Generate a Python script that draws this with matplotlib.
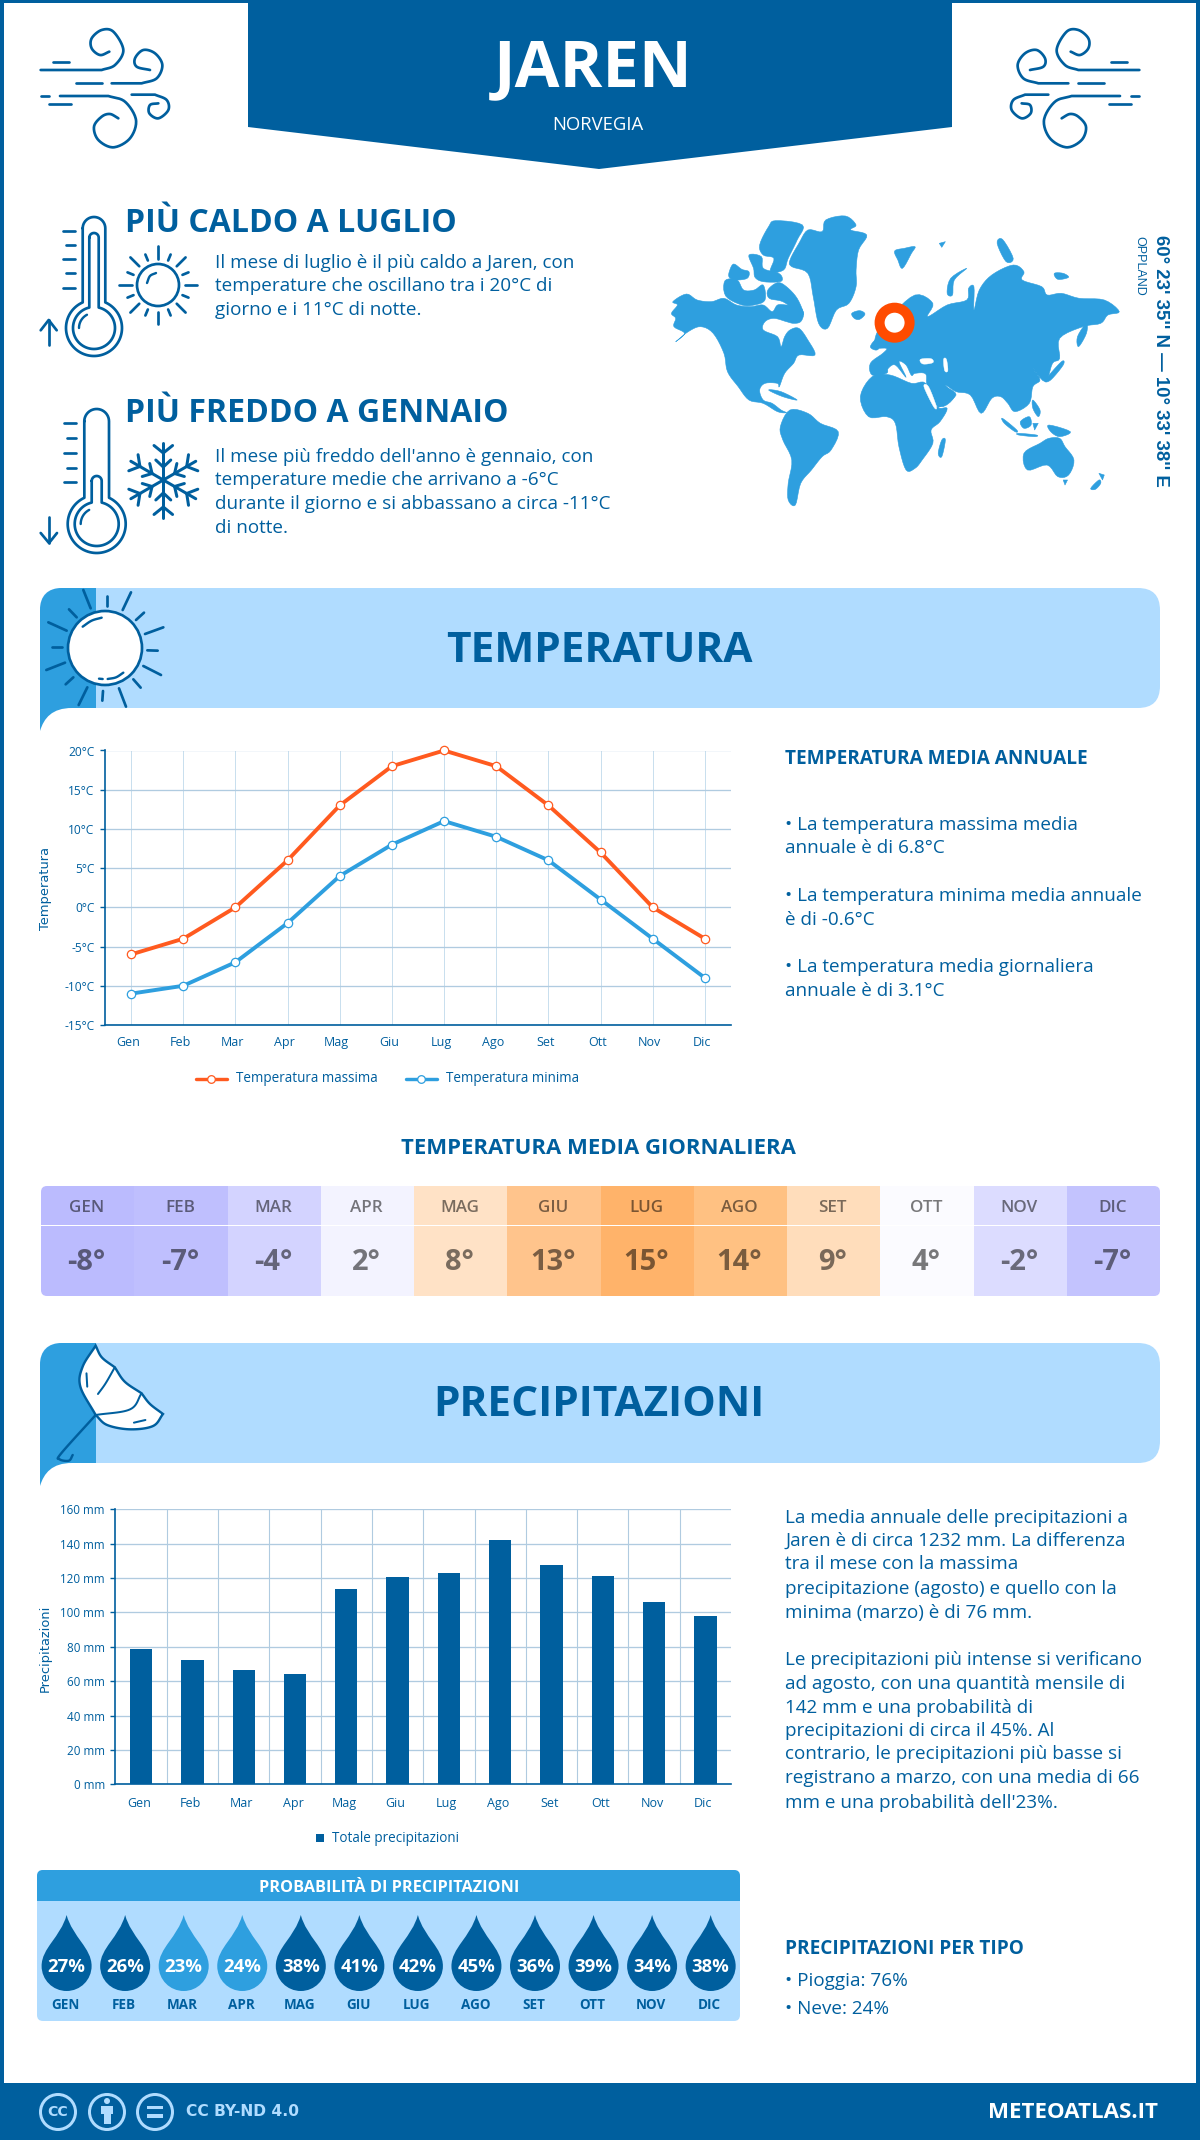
from __future__ import annotations

import matplotlib
import numpy as np

matplotlib.use("Agg")
import matplotlib.pyplot as plt  # noqa: E402
from matplotlib.patches import Circle, FancyBboxPatch, PathPatch, Polygon, Rectangle  # noqa: E402
from matplotlib.path import Path  # noqa: E402
from matplotlib.transforms import ScaledTranslation  # noqa: E402

plt.rcParams["font.family"] = ["Open Sans", "DejaVu Sans"]

DARK = "#005f9e"
MID = "#2e9fdf"
LIGHT = "#b0dcff"
ORANGE = "#ff5a1f"
GRID = "#b0cbe0"
GRID_SOFT = "#c8deee"

MONTHS = ["Gen", "Feb", "Mar", "Apr", "Mag", "Giu", "Lug", "Ago", "Set", "Ott", "Nov", "Dic"]
TEMP_MAX = [-6, -4, 0, 6, 13, 18, 20, 18, 13, 7, 0, -4]
TEMP_MIN = [-11, -10, -7, -2, 4, 8, 11, 9, 6, 1, -4, -9]
TEMP_DAILY = [-8, -7, -4, 2, 8, 13, 15, 14, 9, 4, -2, -7]
TEMP_COLORS = ["#bbbbfe", "#bfbffe", "#d3d3ff", "#f3f3ff", "#ffe2c6", "#ffc48c",
               "#ffb36a", "#ffc182", "#ffddbb", "#fbfbff", "#dcdcff", "#c3c3fe"]
PRECIP = [78.7, 72.3, 66.5, 64.2, 113.6, 120.6, 123, 142, 127.6, 121.2, 106, 97.9]
RAIN_PROB = [27, 26, 23, 24, 38, 41, 42, 45, 36, 39, 34, 38]
TEMP_TICKS = [-15, -10, -5, 0, 5, 10, 15, 20]
PRECIP_TICKS = [0, 20, 40, 60, 80, 100, 120, 140, 160]

PRECIP_TEXT = [
    (1518, "La media annuale delle precipitazioni a"),
    (1541, "Jaren è di circa 1232 mm. La differenza"),
    (1564, "tra il mese con la massima"),
    (1589, "precipitazione (agosto) e quello con la"),
    (1613, "minima (marzo) è di 76 mm."),
    (1660, "Le precipitazioni più intense si verificano"),
    (1684, "ad agosto, con una quantità mensile di"),
    (1708, "142 mm e una probabilità di"),
    (1731, "precipitazioni di circa il 45%. Al"),
    (1754, "contrario, le precipitazioni più basse si"),
    (1778, "registrano a marzo, con una media di 66"),
    (1803, "mm e una probabilità dell'23%."),
]
TEMP_NOTES = [
    (825, "• La temperatura massima media"),
    (848, "annuale è di 6.8°C"),
    (896, "• La temperatura minima media annuale"),
    (920, "è di -0.6°C"),
    (967, "• La temperatura media giornaliera"),
    (991, "annuale è di 3.1°C"),
]

WIDTH, HEIGHT = 1200, 2140
BODY = 18.85
fig = plt.figure(figsize=(WIDTH / 100, HEIGHT / 100), dpi=100, facecolor="white")
bg = fig.add_axes([0, 0, 1, 1])
bg.set_xlim(0, WIDTH)
bg.set_ylim(HEIGHT, 0)
bg.axis("off")


def px(size: float) -> float:
    return size * 0.72


def text(x, y, s, size, weight="normal", color=DARK, ha="left", va="center", **kw):
    return bg.text(x, y, s, fontsize=px(size), fontweight=weight, color=color, ha=ha, va=va, **kw)


def smooth(points, steps=14, closed=False):
    # catmull-rom through hand picked points, good enough for the icons
    pts = np.array(points, dtype=float)
    if closed:
        pts = np.vstack([pts[-1], pts, pts[0], pts[1]])
    else:
        pts = np.vstack([2 * pts[0] - pts[1], pts, 2 * pts[-1] - pts[-2]])
    out = []
    for i in range(1, len(pts) - 2):
        p0, p1, p2, p3 = pts[i - 1], pts[i], pts[i + 1], pts[i + 2]
        for t in np.linspace(0, 1, steps, endpoint=False):
            out.append(0.5 * (2 * p1 + (p2 - p0) * t + (2 * p0 - 5 * p1 + 4 * p2 - p3) * t**2
                              + (3 * p1 - p0 - 3 * p2 + p3) * t**3))
    out.append(pts[-2])
    return np.array(out)


def stroke(points, lw=2.7, color=DARK, z=5):
    pts = np.array(points, dtype=float)
    bg.plot(pts[:, 0], pts[:, 1], color=color, lw=px(lw), solid_capstyle="round",
            solid_joinstyle="round", zorder=z)


def shift_labels(axis, dx):
    for lbl in axis.get_xticklabels():
        lbl.set_transform(lbl.get_transform() + ScaledTranslation(dx / 100, 0, fig.dpi_scale_trans))


# page frame and footer
bg.add_patch(Rectangle((0, 0), 4, HEIGHT, color=DARK, lw=0))
bg.add_patch(Rectangle((1196, 0), 4, HEIGHT, color=DARK, lw=0))
bg.add_patch(Rectangle((0, 0), WIDTH, 3, color=DARK, lw=0))
bg.add_patch(Rectangle((0, 2083), WIDTH, 57, color=DARK, lw=0))

# header
bg.add_patch(Polygon([(248, 0), (952, 0), (952, 127), (599, 169), (248, 127)], color=DARK, lw=0))
text(593.5, 70, "JAREN", 65, "bold", "white", ha="center")
text(598, 125, "NORVEGIA", 18.5, "normal", "white", ha="center")


def wind(flip):
    conv = lambda pts: [((1180 - (30 + x / 3)) if flip else 30 + x / 3, 20 + y / 3) for x, y in pts]
    stroke(conv([(68, 125), (118, 125)]))
    stroke(conv([(138, 190), (215, 190)]))
    stroke(conv([(32, 228), (58, 228)]))
    stroke(conv([(57, 252), (123, 252)]))
    curls = [
        [(215, 150), (255, 135), (280, 90), (250, 35), (215, 30), (185, 55), (185, 85), (210, 105), (238, 95)],
        [(335, 190), (380, 175), (397, 135), (375, 100), (340, 90), (315, 115), (320, 140), (360, 150)],
        [(235, 228), (285, 245), (318, 300), (300, 355), (250, 382), (205, 360), (192, 320), (215, 290), (240, 282), (265, 295)],
        [(375, 224), (410, 240), (415, 270), (385, 295), (358, 280), (360, 255), (385, 250)],
    ]
    starts = [(32, 150), (245, 190), (90, 228), (305, 224)]
    for start, curl in zip(starts, curls):
        stroke(np.vstack([conv([start]), smooth(conv(curl))]))


wind(False)
wind(True)

# warmest / coldest blocks
text(125, 224, "PIÙ CALDO A LUGLIO", 32, "bold")
for y, s in [(263, "Il mese di luglio è il più caldo a Jaren, con"),
             (286, "temperature che oscillano tra i 20°C di"),
             (310, "giorno e i 11°C di notte.")]:
    text(215, y, s, BODY)
text(125, 414, "PIÙ FREDDO A GENNAIO", 32, "bold")
for y, s in [(457, "Il mese più freddo dell'anno è gennaio, con"),
             (480, "temperature medie che arrivano a -6°C"),
             (504, "durante il giorno e si abbassano a circa -11°C"),
             (528, "di notte.")]:
    text(215, y, s, BODY)


def thermometer(xl, xr, top, cx, cy, r_out, r_in, stem_l, stem_r, stem_top, tick_l, ticks):
    rt = (xr - xl) / 2
    a = np.arcsin(rt / r_out)
    cap = np.linspace(np.pi, 0, 24)
    capxy = np.column_stack([(xl + xr) / 2 + rt * np.cos(cap), top + rt - rt * np.sin(cap)])
    th = np.linspace(np.pi / 2 - a, -1.5 * np.pi + a, 80)
    bulb = np.column_stack([cx + r_out * np.cos(th), cy - r_out * np.sin(th)])
    stroke(np.vstack([capxy, bulb, capxy[:1]]))
    # inner outline
    rs = (stem_r - stem_l) / 2
    b = np.arcsin(rs / r_in)
    cap2 = np.linspace(np.pi, 0, 20)
    cap2xy = np.column_stack([(stem_l + stem_r) / 2 + rs * np.cos(cap2), stem_top + rs - rs * np.sin(cap2)])
    th2 = np.linspace(np.pi / 2 - b, -1.5 * np.pi + b, 70)
    bulb2 = np.column_stack([cx + r_in * np.cos(th2), cy - r_in * np.sin(th2)])
    stroke(np.vstack([cap2xy, bulb2, cap2xy[:1]]))
    for i, y in enumerate(ticks):
        stroke([(tick_l + (3.5 if i % 2 else 0), y), (tick_l + 12.5, y)])
    hl = np.linspace(np.radians(180), np.radians(118), 12)
    stroke(np.column_stack([cx + (r_in - 6) * np.cos(hl), cy - (r_in - 6) * np.sin(hl)]), lw=2.4)


thermometer(82.7, 105.3, 217, 94, 328, 28, 21, 89.3, 98.7, 233, 62.7, [230.7, 245.3, 259.3, 273.3, 287.7])
stroke([(48.7, 345), (48.7, 320)])
stroke([(40.7, 330.3), (48.7, 320), (56.7, 330.3)])
thermometer(84.3, 109, 409, 96.7, 524, 29, 22, 91.7, 101.7, 476, 63.5, [423, 438, 452.7, 467.7, 482.3])
stroke([(49, 516.7), (49, 543)])
stroke([(40.7, 533), (49, 543), (57, 533)])

# little sun
sx, sy = 158, 285
bg.add_patch(Circle((sx, sy), 21, fc="none", ec=DARK, lw=px(2.7), zorder=5))
for k in range(16):
    ang = k * np.pi / 8
    r2 = 39 if k % 2 == 0 else 33
    stroke([(sx + 26.5 * np.cos(ang), sy - 26.5 * np.sin(ang)), (sx + r2 * np.cos(ang), sy - r2 * np.sin(ang))])
stroke(smooth([(147, 283), (150, 276), (156, 273)]), lw=2.4)

# snowflake
fx, fy = 163.3, 480
for k in range(6):
    ang = np.pi / 2 + k * np.pi / 3
    u = np.array([np.cos(ang), -np.sin(ang)])
    v = np.array([-u[1], u[0]])
    c = np.array([fx, fy])
    stroke([c, c + 37.5 * u], lw=3)
    for base, along, side in [(27, 7.5, 9.3), (13, 7, 7.5)]:
        for sgn in (-1, 1):
            stroke([c + base * u, c + (base + along) * u + sgn * side * v], lw=3)


# world map
def land(points):
    pts = [(640 + x / 2.8, 190 + y / 3) for x, y in points]
    if len(pts) > 3:
        pts = smooth(pts, steps=5, closed=True)
    bg.add_patch(Polygon(pts, closed=True, fc=MID, ec=MID, lw=0.4, joinstyle="round", zorder=2))


def hole(points):
    pts = [(640 + x / 2.8, 190 + y / 3) for x, y in points]
    bg.add_patch(Polygon(smooth(pts, steps=5, closed=True), closed=True, fc="white", ec="white", lw=0.3, zorder=3))


LANDS = [
    # north america
    [(88, 370), (105, 345), (92, 335), (130, 312), (160, 330), (200, 335), (235, 325), (270, 345), (310, 350),
     (345, 345), (370, 365), (385, 345), (410, 345), (445, 350), (458, 370), (450, 395), (430, 400), (410, 395),
     (375, 385), (350, 395), (345, 420), (385, 440), (395, 470), (405, 440), (420, 420), (445, 415), (470, 450),
     (490, 495), (445, 495), (430, 520), (405, 550), (390, 590), (385, 580), (350, 580), (335, 600), (345, 630),
     (370, 640), (395, 660), (410, 668), (385, 665), (345, 640), (305, 630), (275, 590), (245, 545), (235, 490),
     (205, 430), (170, 410), (135, 425), (100, 455), (125, 430), (95, 410), (100, 385)],
    # canadian arctic
    [(358, 300), (385, 278), (410, 290), (440, 325), (458, 372), (440, 365), (400, 335), (362, 325)],
    [(335, 165), (360, 110), (380, 92), (455, 105), (440, 150), (415, 205), (402, 240), (365, 245), (375, 205), (345, 195)],
    [(238, 272), (272, 270), (290, 300), (320, 300), (345, 285), (350, 330), (320, 345), (285, 345), (240, 318)],
    [(250, 245), (262, 222), (285, 238), (305, 245), (300, 265), (268, 270), (250, 262)],
    [(305, 195), (340, 200), (345, 235), (385, 248), (398, 262), (392, 275), (345, 275), (322, 262), (318, 235)],
    # greenland, iceland, svalbard and so on
    [(420, 210), (445, 160), (470, 120), (510, 125), (520, 90), (575, 78), (605, 105), (590, 120), (635, 135),
     (612, 180), (605, 240), (605, 290), (585, 340), (550, 360), (525, 415), (500, 400), (485, 320), (470, 250), (425, 230)],
    [(593, 370), (615, 362), (630, 372), (615, 388), (600, 385)],
    [(713, 183), (740, 175), (770, 170), (760, 190), (735, 235), (722, 210)],
    [(838, 160), (855, 155), (845, 172)],
    [(860, 310), (870, 265), (915, 235), (880, 270), (875, 315)],
    [(1000, 160), (1015, 148), (1045, 205), (1025, 215)],
    [(1160, 250), (1185, 250), (1200, 262), (1170, 268)],
    # eurasia
    [(655, 465), (665, 425), (700, 380), (770, 315), (820, 340), (805, 380), (860, 345), (915, 330), (920, 295),
     (935, 290), (935, 360), (950, 300), (985, 255), (1045, 225), (1075, 245), (1070, 270), (1125, 290), (1140, 315),
     (1180, 310), (1230, 325), (1300, 330), (1342, 365), (1310, 375), (1290, 400), (1240, 410), (1175, 445),
     (1175, 505), (1155, 520), (1135, 575), (1100, 535), (1120, 570), (1100, 590), (1090, 640), (1050, 665),
     (1030, 640), (1010, 620), (985, 625), (955, 670), (925, 615), (885, 605), (855, 585), (880, 620), (840, 650),
     (805, 590), (800, 552), (770, 550), (760, 556), (745, 525), (725, 515), (745, 562), (715, 525), (695, 535),
     (690, 550), (650, 555), (645, 520), (680, 490), (690, 475), (655, 475)],
    [(645, 470), (660, 450), (668, 475), (658, 480)],
    # africa and madagascar
    [(617, 620), (650, 560), (700, 555), (760, 580), (800, 580), (830, 650), (860, 655), (840, 695), (815, 720),
     (820, 760), (790, 810), (770, 835), (745, 840), (725, 770), (715, 700), (690, 680), (640, 680)],
    [(805, 590), (850, 590), (885, 615), (840, 650), (830, 645)],
    [(835, 790), (845, 750), (855, 750), (845, 800)],
    # south america
    [(393, 710), (420, 660), (470, 670), (505, 700), (555, 725), (535, 780), (510, 800), (480, 840), (450, 880),
     (435, 945), (415, 930), (415, 880), (425, 810), (400, 750)],
    # oceania and the asian islands
    [(1075, 790), (1120, 760), (1145, 745), (1175, 745), (1190, 770), (1215, 810), (1200, 855), (1170, 860), (1140, 825), (1085, 840)],
    [(1185, 870), (1197, 870), (1190, 885)],
    [(1262, 895), (1285, 870), (1290, 880), (1275, 898)],
    [(1285, 850), (1300, 855), (1295, 870)],
    [(1135, 570), (1180, 515), (1185, 525), (1150, 570)],
    [(1228, 470), (1225, 440), (1250, 400), (1250, 430)],
    [(1015, 685), (1055, 720), (1050, 725), (1020, 700)],
    [(1065, 695), (1090, 680), (1095, 705), (1075, 715)],
    [(1060, 730), (1110, 735), (1105, 740), (1060, 735)],
    [(1100, 700), (1115, 700), (1105, 720)],
    [(1145, 705), (1205, 725), (1175, 740), (1150, 725)],
    [(1100, 630), (1120, 660), (1115, 680), (1100, 655)],
    [(360, 600), (395, 605), (440, 630), (400, 620)],
]
for shape in LANDS:
    land(shape)
hole([(785, 508), (815, 506), (820, 518), (792, 522)])
hole([(850, 508), (858, 508), (862, 542), (853, 542)])
hole([(795, 590), (808, 590), (830, 650), (822, 650)])

bg.add_patch(Circle((894.6, 322.7), 15, fc="white", ec="#ff4b00", lw=px(10), zorder=6))
text(1161, 235, "60° 23' 35'' N — 10° 33' 38'' E", 18.6, "bold", ha="center", va="top", rotation=-90,
     family=["Liberation Sans"])
text(1139, 236, "OPPLAND", 12.5, "normal", ha="center", va="top", rotation=-90, family=["Liberation Sans"])


def banner(top, title):
    bottom = top + 120
    bg.add_patch(FancyBboxPatch((40 + 22, top + 22), 1120 - 44, 120 - 44, boxstyle="round,pad=22,rounding_size=22",
                                fc=LIGHT, ec="none", zorder=1))
    verts = [(40, bottom + 23), (40, top + 22), (40, top + 8), (48, top), (62, top), (96, top), (96, bottom),
             (72, bottom), (52, bottom), (44, bottom + 10), (40, bottom + 23)]
    codes = [Path.MOVETO, Path.LINETO, Path.CURVE4, Path.CURVE4, Path.CURVE4, Path.LINETO, Path.LINETO,
             Path.LINETO, Path.CURVE4, Path.CURVE4, Path.CURVE4]
    bg.add_patch(PathPatch(Path(verts, codes), fc=MID, ec="none", zorder=2))
    text(599, top + 63, title, 42.4, "bold", ha="center")


banner(588, "TEMPERATURA")
banner(1343, "PRECIPITAZIONI")

# big sun on the temperature banner
conv = lambda pts: [(30 + x / 3, 580 + y / 3) for x, y in pts]
bg.add_patch(Circle((105, 648), 37, fc="white", ec=DARK, lw=px(2.7), zorder=5))
SUN_RAYS = [((160, 30), (182, 85)), ((230, 47), (230, 78)), ((303, 37), (278, 90)), ((342, 98), (318, 120)),
            ((400, 142), (345, 162)), ((383, 212), (352, 211)), ((393, 285), (340, 258)), ((332, 323), (310, 298)),
            ((288, 380), (267, 325)), ((217, 362), (219, 333)), ((146, 375), (172, 322)), ((107, 313), (130, 292)),
            ((49, 270), (105, 248)), ((66, 200), (97, 200)), ((55, 127), (110, 152)), ((117, 88), (140, 112))]
for a, b in SUN_RAYS:
    stroke(conv([a, b]))
stroke(smooth(conv([(158, 140), (185, 122), (215, 113)])), lw=2.4)
stroke(smooth(conv([(233, 297), (258, 292), (280, 278)])), lw=2.4)
stroke(conv([(207, 296), (218, 297)]), lw=2.4)

# umbrella on the precipitation banner
uconv = lambda pts: [(x / 1.3067, 1120 + y / 3) for x, y in pts]
canopy = (
    list(smooth(uconv([(125, 677), (108, 740), (105, 800), (125, 885)])))
    + list(smooth(uconv([(125, 885), (140, 915), (170, 928), (200, 918), (213, 882)])))
    + list(smooth(uconv([(213, 882), (196, 852), (185, 820)])))
    + list(smooth(uconv([(185, 820), (163, 785), (150, 742)])))
    + list(smooth(uconv([(150, 742), (133, 712), (125, 677)])))
)
bg.add_patch(Polygon(canopy, closed=True, fc="white", ec=DARK, lw=px(2.4), zorder=5))
stroke(smooth(uconv([(150, 742), (138, 790), (128, 822)])), lw=2)
stroke(smooth(uconv([(185, 820), (170, 868), (125, 885)])), lw=2)
stroke(uconv([(113, 760), (114, 800)]), lw=2)
stroke(uconv([(175, 908), (190, 900)]), lw=2)
stroke(smooth(uconv([(125, 885), (80, 1000), (78, 1018), (90, 1022), (95, 1005)])), lw=2.4)


def chart_axes(left, top, right, bottom):
    ax = fig.add_axes([left / WIDTH, 1 - bottom / HEIGHT, (right - left) / WIDTH, (bottom - top) / HEIGHT])
    ax.set_facecolor("none")
    for side in ("top", "right"):
        ax.spines[side].set_visible(False)
    for side in ("left", "bottom"):
        ax.spines[side].set_color(DARK)
        ax.spines[side].set_linewidth(1.2)
    ax.set_axisbelow(True)
    return ax


# temperature chart
ax = chart_axes(105, 750.5, 731, 1025)
x = np.arange(12)
ax.set_xlim(-0.5, 11.5)
ax.set_ylim(-15, 20)
ax.set_yticks(TEMP_TICKS)
ax.set_yticklabels([f"{t}°C" for t in TEMP_TICKS], fontsize=px(12), color=DARK)
ax.set_xticks(x)
ax.set_xticklabels(MONTHS, fontsize=px(12.5), color=DARK)
ax.tick_params(axis="y", length=3.6, width=1, color=DARK, pad=4)
ax.tick_params(axis="x", length=0, pad=8)
ax.grid(axis="y", color=GRID, lw=0.95)
ax.grid(axis="x", color=GRID_SOFT, lw=0.7)
shift_labels(ax, -3)
line_style = dict(marker="o", ms=6, mfc="white", mew=0.9, lw=2.8, clip_on=False)
ax.plot(x, TEMP_MAX, color=ORANGE, **line_style)
ax.plot(x, TEMP_MIN, color=MID, **line_style)
text(45, 889, "Temperatura", 13, ha="center", rotation=90, family=["DejaVu Sans"])
stroke([(196, 1079), (227, 1079)], lw=3.4, color=ORANGE)
bg.plot([211], [1079], "o", ms=5.5, mfc="white", mec=ORANGE, mew=0.9, zorder=6)
text(236, 1079, "Temperatura massima", 13.5)
stroke([(406, 1079), (437, 1079)], lw=3.4, color=MID)
bg.plot([421], [1079], "o", ms=5.5, mfc="white", mec=MID, mew=0.9, zorder=6)
text(446, 1079, "Temperatura minima", 13.5)

text(785, 759, "TEMPERATURA MEDIA ANNUALE", 19, "bold")
for y, s in TEMP_NOTES:
    text(785, y, s, BODY)

# daily mean table
text(598, 1149, "TEMPERATURA MEDIA GIORNALIERA", 22.2, "bold", ha="center")
clip = FancyBboxPatch((41 + 6, 1186 + 6), 1119 - 12, 110 - 12, boxstyle="round,pad=6,rounding_size=6",
                      fc="none", ec="none", transform=bg.transData)
bg.add_patch(clip)
cell = (1160 - 41) / 12
for i, (m, t, c) in enumerate(zip(MONTHS, TEMP_DAILY, TEMP_COLORS)):
    r = Rectangle((41 + i * cell, 1186), cell + 0.5, 110, fc=c, ec="none", zorder=2)
    bg.add_patch(r)
    r.set_clip_path(clip)
    cx = 41 + (i + 0.5) * cell
    text(cx - 1, 1208, m.upper(), 17, "semibold", "#000000", ha="center", alpha=0.52, zorder=4)
    text(cx - 1, 1263, f"{t}°", 29, "bold", "#000000", ha="center", alpha=0.52, zorder=4)
bg.add_patch(Rectangle((41, 1224.5), 1119, 1.5, fc="white", ec="none", zorder=3))

# precipitation chart
ax2 = chart_axes(115.4, 1509.3, 731, 1784.3)
ax2.set_xlim(-0.5, 11.5)
ax2.set_ylim(0, 160)
ax2.set_yticks(PRECIP_TICKS)
ax2.set_yticklabels([f"{t} mm" for t in PRECIP_TICKS], fontsize=px(11.6), color=DARK)
ax2.set_xticks(x)
ax2.set_xticklabels(MONTHS, fontsize=px(12.5), color=DARK)
ax2.tick_params(axis="y", length=3.6, width=1, color=DARK, pad=4)
ax2.tick_params(axis="x", length=0, pad=9)
ax2.set_xticks(x[:-1] + 0.5, minor=True)
ax2.tick_params(axis="x", which="minor", length=0)
ax2.grid(axis="y", color=GRID, lw=0.95)
ax2.grid(axis="x", which="minor", color=GRID, lw=0.8)
shift_labels(ax2, -2)
ax2.bar(x, PRECIP, width=22.3 / 51.3, color=DARK, zorder=3)
text(45, 1648, "Precipitazioni", 13, ha="center", rotation=90, family=["DejaVu Sans"])
bg.add_patch(Rectangle((316, 1834), 8, 8, fc=DARK, ec="none"))
text(332, 1838, "Totale precipitazioni", 13.5)

for y, s in PRECIP_TEXT:
    text(785, y, s, BODY)

# rain probability panel
bg.add_patch(FancyBboxPatch((37 + 6, 1870 + 6), 703 - 12, 151 - 12, boxstyle="round,pad=6,rounding_size=6",
                            fc=LIGHT, ec="none", zorder=1))
head = FancyBboxPatch((37 + 6, 1870 + 6), 703 - 12, 151 - 12, boxstyle="round,pad=6,rounding_size=6",
                      fc="none", ec="none")
bg.add_patch(head)
hr = Rectangle((37, 1870), 703, 31, fc=MID, ec="none", zorder=2)
bg.add_patch(hr)
hr.set_clip_path(head)
text(389, 1888, "PROBABILITÀ DI PRECIPITAZIONI", 16.2, "bold", "white", ha="center", zorder=3)


def drop(cx, tip, bottom, half, color):
    cy = bottom - half
    k = 0.5523 * half
    verts = [(cx, tip), (cx + 6, tip + 22), (cx + half, cy - 18), (cx + half, cy),
             (cx + half, cy + k), (cx + k, bottom), (cx, bottom),
             (cx - k, bottom), (cx - half, cy + k), (cx - half, cy),
             (cx - half, cy - 18), (cx - 6, tip + 22), (cx, tip)]
    codes = [Path.MOVETO] + [Path.CURVE4] * 12
    bg.add_patch(PathPatch(Path(verts, codes), fc=color, ec="none", zorder=3))


for i, (m, p) in enumerate(zip(MONTHS, RAIN_PROB)):
    cx = 66.6 + i * 58.55
    drop(cx, 1915, 1991, 25, MID if p < 25 else DARK)
    text(cx, 1967, f"{p}%", 18.5, "bold", "white", ha="center", zorder=4)
    text(cx - 1, 2005, m.upper(), 13.5, "bold", ha="center", zorder=4)

text(785, 1949, "PRECIPITAZIONI PER TIPO", 19, "bold")
text(785, 1981, "• Pioggia: 76%", BODY)
text(785, 2009, "• Neve: 24%", BODY)

# footer
for cx in (58, 107, 155):
    bg.add_patch(Circle((cx, 2112), 17.5, fc="none", ec=LIGHT, lw=px(3), zorder=5))
text(58, 2112, "CC", 14, "bold", LIGHT, ha="center", family=["DejaVu Sans"], zorder=6)
bg.add_patch(Circle((107, 2101), 3, fc=LIGHT, ec="none", zorder=6))
bg.add_patch(Rectangle((101, 2105.5), 12, 8, fc=LIGHT, ec="none", zorder=6))
bg.add_patch(Rectangle((103.5, 2113), 7, 11, fc=LIGHT, ec="none", zorder=6))
bg.add_patch(Rectangle((147, 2105.5), 16, 3.5, fc=LIGHT, ec="none", zorder=6))
bg.add_patch(Rectangle((147, 2114), 16, 3.5, fc=LIGHT, ec="none", zorder=6))
text(186, 2112, "CC BY-ND 4.0", 15.5, "bold", LIGHT, family=["DejaVu Sans"])
text(1158, 2113, "METEOATLAS.IT", 22.3, "bold", "white", ha="right")

fig.savefig("out.png", dpi=100)
